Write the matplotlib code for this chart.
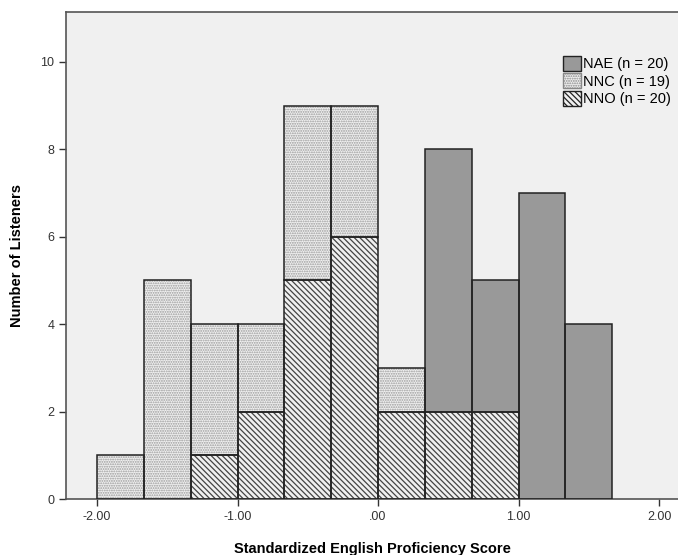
import matplotlib.pyplot as plt
import numpy as np
from matplotlib.patches import Patch

plt.rcParams['font.family'] = ['Liberation Sans', 'DejaVu Sans']
plt.rcParams['hatch.linewidth'] = 0.9

# bins of width 1/3 starting at -2.00
bin_start = -2.0
bin_width = 1 / 3
nno = [0, 0, 1, 2, 5, 6, 2, 2, 2, 0, 0]
nnc = [1, 5, 3, 2, 4, 3, 1, 0, 0, 0, 0]
nae = [0, 0, 0, 0, 0, 0, 0, 6, 3, 7, 4]
labels = ['NAE (n = 20)', 'NNC (n = 19)', 'NNO (n = 20)']
xticks = [-2, -1, 0, 1, 2]
xticklabels = ['-2.00', '-1.00', '.00', '1.00', '2.00']

DIAG = '\\' * 6
DOTS = '.' * 7

left = bin_start + bin_width * np.arange(len(nno))

fig = plt.figure(figsize=(6.78, 5.55), dpi=100)
ax = fig.add_axes([66 / 678, 56 / 555, 1 - 66 / 678, 487 / 555])
ax.set_facecolor('#f0f0f0')

nno = np.array(nno)
nnc = np.array(nnc)
nae = np.array(nae)


def draw(heights, bottom, face, hatch, hatch_col):
    m = heights > 0
    ax.bar(left[m], heights[m], width=bin_width, bottom=bottom[m], align='edge',
           color=face, edgecolor='none', linewidth=0, zorder=2)
    if hatch:
        ax.bar(left[m], heights[m], width=bin_width, bottom=bottom[m], align='edge',
               color='none', edgecolor=hatch_col, hatch=hatch, linewidth=0, zorder=3)
    ax.bar(left[m], heights[m], width=bin_width, bottom=bottom[m], align='edge',
           color='none', edgecolor='#222222', linewidth=1.1, zorder=4)


zero = np.zeros(len(nno))
draw(nno, zero, '#f0f0f0', DIAG, '#444444')
draw(nnc, nno, '#f0f0f0', DOTS, '#9a9a9a')
draw(nae, nno + nnc, '#999999', None, None)

ax.set_xlim(-2.221, 2.135)
ax.set_ylim(0, 11.14)
ax.set_xticks(xticks)
ax.set_xticklabels(xticklabels)
ax.set_yticks([0, 2, 4, 6, 8, 10])
ax.tick_params(axis='both', direction='out', length=5, width=1, color='#333333',
               labelsize=9, labelcolor='#333333')
for s in ['left', 'bottom', 'top']:
    ax.spines[s].set_color('#555555')
    ax.spines[s].set_linewidth(1.2)
ax.spines['right'].set_visible(False)

ax.set_xlabel('Standardized English Proficiency Score', fontsize=10.5,
              fontweight='bold', labelpad=14)
ax.set_ylabel('Number of Listeners', fontsize=10.5, fontweight='bold', labelpad=12)

handles = [
    Patch(facecolor='#999999', edgecolor='#222222', linewidth=1),
    Patch(facecolor='#f0f0f0', edgecolor='#888888', hatch=DOTS, linewidth=1),
    Patch(facecolor='#f0f0f0', edgecolor='#222222', hatch=DIAG, linewidth=1),
]
ax.legend(handles, labels, loc='upper right', bbox_to_anchor=(1.0, 0.925),
          frameon=False, fontsize=10.5, handlelength=1.2, handleheight=1.2,
          handletextpad=0.15, labelspacing=0.15, borderaxespad=0.1)

fig.savefig('out.png', dpi=100)
